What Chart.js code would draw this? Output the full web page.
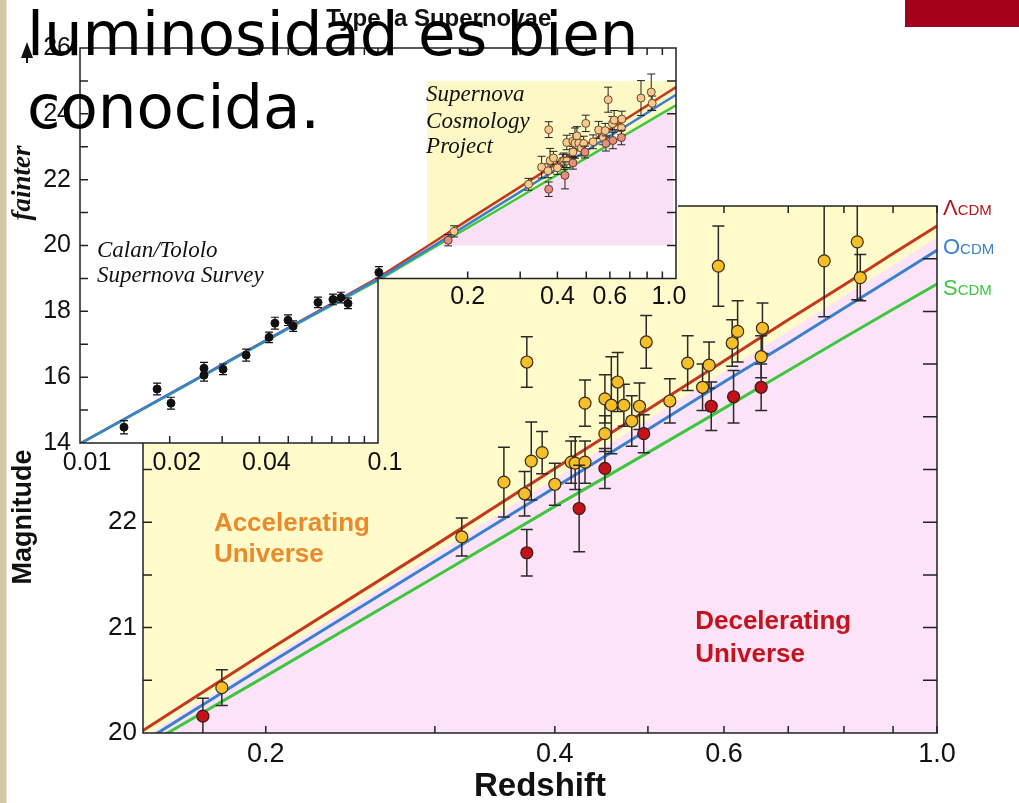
<!DOCTYPE html>
<html>
<head>
<meta charset="utf-8">
<script src="https://cdn.jsdelivr.net/npm/chart.js@4.4.1/dist/chart.umd.min.js"></script>
<style>
  html, body { margin: 0; padding: 0; background: #fff; }
  #slide { position: relative; width: 1019px; height: 803px; overflow: hidden; background: #fff; }
  #main { position: absolute; left: 0; top: 0; z-index: 1; }
  #inset { position: absolute; left: 0; top: 0; z-index: 2; }
  #strip { position: absolute; left: 0; top: 0; width: 6px; height: 803px; background: #d3c6a4; border-right: 1px solid #ece4cf; z-index: 4; }
  #redbar { position: absolute; left: 905px; top: 0; width: 114px; height: 27px; background: #a4021c; z-index: 4; }
  #heading { position: absolute; left: 27px; top: -3px; font-family: 'DejaVu Sans', sans-serif; font-size: 61px; line-height: 73px; color: #000; z-index: 5; white-space: nowrap; }
</style>
</head>
<body>
<div id="slide">
  <canvas id="main" width="1019" height="803"></canvas>
  <canvas id="inset" width="700" height="480"></canvas>
  <div id="strip"></div>
  <div id="redbar"></div>
  <div id="heading">luminosidad es bien<br>conocida.</div>
</div>
<script>
const FONT = "'Liberation Sans', Arial, Helvetica, sans-serif";
const SERIF = "'Liberation Serif', 'Times New Roman', serif";
Chart.defaults.font.family = FONT;
Chart.defaults.color = '#111';

// model curves (redshift -> magnitude)
const modelZ  = [0.01, 0.02, 0.05, 0.1, 0.15, 0.2, 0.3, 0.4, 0.5, 0.6, 0.7, 0.8, 0.9, 1.0];
const lcdmMag = [13.98, 15.49, 17.50, 19.02, 20.04, 20.77, 21.78, 22.51, 23.07, 23.53, 23.92, 24.25, 24.55, 24.81];
const ocdmMag = [13.98, 15.49, 17.49, 18.98, 19.93, 20.64, 21.63, 22.33, 22.88, 23.33, 23.70, 24.03, 24.32, 24.58];
const scdmMag = [13.98, 15.48, 17.47, 18.94, 19.88, 20.54, 21.48, 22.15, 22.66, 23.08, 23.44, 23.75, 24.02, 24.26];

// Supernova Cosmology Project (yellow)
const scpZ   = [0.180, 0.320, 0.354, 0.372, 0.374, 0.378, 0.388, 0.400, 0.416, 0.420, 0.430, 0.430, 0.451, 0.451, 0.458, 0.465,
                0.472, 0.481, 0.490, 0.498, 0.527, 0.550, 0.570, 0.579, 0.592, 0.612, 0.620, 0.658, 0.656, 0.763, 0.826, 0.832];
const scpMag = [20.43, 21.86, 22.38, 22.27, 23.52, 22.58, 22.66, 22.36, 22.57, 22.56, 22.57, 23.13, 23.17, 22.84, 23.11, 23.33,
                23.11, 22.96, 23.10, 23.71, 23.15, 23.51, 23.28, 23.49, 24.43, 23.70, 23.81, 23.84, 23.57, 24.48, 24.66, 24.32];
const scpErr = [0.17, 0.18, 0.33, 0.21, 0.24, 0.37, 0.20, 0.20, 0.20, 0.25, 0.20, 0.22, 0.23, 0.17, 0.46, 0.28,
                0.20, 0.24, 0.22, 0.25, 0.21, 0.26, 0.22, 0.22, 0.38, 0.22, 0.29, 0.24, 0.20, 0.53, 0.55, 0.22];

// second SCP group (red)
const redZ   = [0.172, 0.374, 0.424, 0.451, 0.495, 0.582, 0.614, 0.656];
const redMag = [20.16, 21.71, 22.13, 22.51, 22.84, 23.10, 23.19, 23.28];
const redErr = [0.17, 0.22, 0.41, 0.19, 0.18, 0.23, 0.25, 0.22];

// Calan/Tololo survey (black, inset only)
const ctZ   = [0.01405, 0.01814, 0.0202, 0.02607, 0.02607, 0.0302, 0.0361, 0.0431, 0.0451, 0.0499, 0.0519, 0.0629, 0.0706, 0.0751, 0.0793, 0.1007];
const ctMag = [14.48, 15.64, 15.21, 16.27, 16.06, 16.24, 16.67, 17.21, 17.64, 17.73, 17.55, 18.27, 18.36, 18.42, 18.24, 19.18];
const ctErr = [0.20, 0.18, 0.18, 0.18, 0.18, 0.16, 0.18, 0.16, 0.18, 0.16, 0.16, 0.16, 0.16, 0.16, 0.16, 0.18];

// ticks
const mainXLabels = [0.2, 0.4, 0.6, 1.0];
const mainXMinor  = [0.3, 0.5, 0.7, 0.8, 0.9];
const mainYMinor  = [20.5, 21, 21.5, 22, 22.5, 23, 23.5, 24, 24.5];
const insetXLow   = [0.01, 0.02, 0.04, 0.1];
const insetXHigh  = [0.2, 0.4, 0.6, 1.0];
const insetXMinor = [0.02, 0.03, 0.04, 0.05, 0.06, 0.07, 0.08, 0.09, 0.1, 0.2, 0.3, 0.4, 0.5, 0.6, 0.7, 0.8, 0.9];
const insetYMinor = [15, 16, 17, 18, 19, 20, 21, 22, 23, 24, 25];

// accelerating / decelerating boundary
const mainBoundZ   = [0.147, 1.0];
const mainBoundMag = [19.92, 24.70];
const insetBoundZ   = [0.146, 0.977];
const insetBoundMag = [19.80, 24.18];

// text notes
const regionNotes = [
  { text: 'Accelerating', z: 0.1766, m: 21.92, color: '#ea8a2c' },
  { text: 'Universe',     z: 0.1766, m: 21.62, color: '#ea8a2c' },
  { text: 'Decelerating', z: 0.560,  m: 20.99, color: '#c3141e' },
  { text: 'Universe',     z: 0.560,  m: 20.67, color: '#c3141e' }
];
const modelNames = [
  { big: 'Λ', small: 'CDM', m: 24.91, color: '#b3161c' },
  { big: 'O', small: 'CDM', m: 24.54, color: '#3a80d2' },
  { big: 'S', small: 'CDM', m: 24.16, color: '#3fc63f' }
];
const insetNotes = [
  { text: 'Supernova',        z: 0.145,  m: 24.39 },
  { text: 'Cosmology',        z: 0.145,  m: 23.58 },
  { text: 'Project',          z: 0.145,  m: 22.82 },
  { text: 'Calan/Tololo',     z: 0.0114, m: 19.64 },
  { text: 'Supernova Survey', z: 0.0114, m: 18.88 }
];

const pts = (zs, ms) => zs.map((z, i) => ({ x: z, y: ms[i] }));

// yellow / pink background split along the boundary
const shade = {
  id: 'shade',
  beforeDatasetsDraw(chart, args, o) {
    const { ctx, scales: { x, y } } = chart;
    const x0 = x.getPixelForValue(o.box[0]), x1 = x.getPixelForValue(o.box[1]);
    const y0 = y.getPixelForValue(o.box[3]), y1 = y.getPixelForValue(o.box[2]);
    ctx.save();
    ctx.beginPath();
    ctx.rect(x0, y0, x1 - x0, y1 - y0);
    ctx.clip();
    ctx.fillStyle = o.above;
    ctx.fillRect(x0, y0, x1 - x0, y1 - y0);
    ctx.beginPath();
    o.z.forEach((z, i) => {
      const px = x.getPixelForValue(z), py = y.getPixelForValue(o.m[i]);
      if (i) ctx.lineTo(px, py); else ctx.moveTo(px, py);
    });
    ctx.lineTo(x1 + 5, y1 + 5);
    ctx.lineTo(x0 - 5, y1 + 5);
    ctx.closePath();
    ctx.fillStyle = o.below;
    ctx.fill();
    ctx.restore();
  }
};

// vertical error bars, drawn just before each point set
const errorBars = {
  id: 'errorBars',
  beforeDatasetDraw(chart, args) {
    const ds = chart.data.datasets[args.index];
    if (!ds.errors) return;
    const { ctx, chartArea: a } = chart;
    const y = chart.scales.y;
    ctx.save();
    ctx.beginPath();
    ctx.rect(a.left, a.top, a.right - a.left, a.bottom - a.top);
    ctx.clip();
    ctx.strokeStyle = ds.errColor;
    ctx.lineWidth = ds.errWidth;
    args.meta.data.forEach((p, i) => {
      const v = ds.data[i].y, e = ds.errors[i], c = ds.cap;
      const yt = y.getPixelForValue(v + e), yb = y.getPixelForValue(v - e);
      ctx.beginPath();
      ctx.moveTo(p.x, yt); ctx.lineTo(p.x, yb);
      ctx.moveTo(p.x - c, yt); ctx.lineTo(p.x + c, yt);
      ctx.moveTo(p.x - c, yb); ctx.lineTo(p.x + c, yb);
      ctx.stroke();
    });
    ctx.restore();
  }
};

// frame, inward ticks and text of the big chart
const mainDeco = {
  id: 'mainDeco',
  afterDraw(chart) {
    const { ctx, chartArea: a, scales: { x, y } } = chart;
    ctx.save();
    ctx.strokeStyle = '#222';
    ctx.lineWidth = 1.5;
    ctx.beginPath();
    mainXLabels.concat(mainXMinor).forEach(v => {
      const px = x.getPixelForValue(v);
      ctx.moveTo(px, a.bottom); ctx.lineTo(px, a.bottom - 7);
      ctx.moveTo(px, a.top); ctx.lineTo(px, a.top + 7);
    });
    mainYMinor.forEach(v => {
      const py = y.getPixelForValue(v);
      ctx.moveTo(a.left, py); ctx.lineTo(a.left + 9, py);
      ctx.moveTo(a.right, py); ctx.lineTo(a.right - 14, py);
    });
    ctx.stroke();
    ctx.strokeRect(a.left, a.top, a.right - a.left, a.bottom - a.top);

    ctx.font = "bold 26px " + FONT;
    ctx.textAlign = 'left';
    ctx.textBaseline = 'alphabetic';
    regionNotes.forEach(n => {
      ctx.fillStyle = n.color;
      ctx.fillText(n.text, x.getPixelForValue(n.z), y.getPixelForValue(n.m));
    });

    modelNames.forEach(n => {
      const py = y.getPixelForValue(n.m);
      ctx.fillStyle = n.color;
      ctx.font = "22px " + FONT;
      ctx.fillText(n.big, a.right + 6, py);
      const w = ctx.measureText(n.big).width;
      ctx.font = "15px " + FONT;
      ctx.fillText(n.small, a.right + 6 + w, py);
    });

    ctx.translate(24, y.getPixelForValue(22.05));
    ctx.rotate(-Math.PI / 2);
    ctx.font = "bold 27px " + FONT;
    ctx.fillStyle = '#111';
    ctx.textAlign = 'center';
    ctx.textBaseline = 'middle';
    ctx.fillText('Magnitude', 0, 0);
    ctx.restore();
  }
};

// L-shaped inset: white backing, clipping, frame, ticks, labels
function insetPath(chart, ctx, pad) {
  const { chartArea: a, scales: { x, y } } = chart;
  const nx = x.getPixelForValue(0.1), ny = y.getPixelForValue(19);
  ctx.beginPath();
  ctx.moveTo(a.left - pad.l, a.top - pad.t);
  ctx.lineTo(a.right + pad.r, a.top - pad.t);
  ctx.lineTo(a.right + pad.r, ny);
  ctx.lineTo(nx, ny);
  ctx.lineTo(nx, a.bottom);
  ctx.lineTo(a.left - pad.l, a.bottom);
  ctx.closePath();
}

const insetDeco = {
  id: 'insetDeco',
  beforeDraw(chart) {
    const ctx = chart.ctx;
    ctx.save();
    insetPath(chart, ctx, { l: 90, t: 60, r: 2 });
    ctx.fillStyle = '#fff';
    ctx.fill();
    ctx.restore();
  },
  beforeDatasetsDraw(chart) {
    const ctx = chart.ctx;
    ctx.save();
    insetPath(chart, ctx, { l: 0, t: 0, r: 0 });
    ctx.clip();
  },
  afterDatasetsDraw(chart) {
    const { ctx, chartArea: a, scales: { x, y } } = chart;
    ctx.restore();
    const nx = x.getPixelForValue(0.1), ny = y.getPixelForValue(19);
    ctx.save();
    ctx.strokeStyle = '#222';
    ctx.lineWidth = 1.5;
    ctx.beginPath();
    insetXMinor.forEach(v => {
      const px = x.getPixelForValue(v);
      ctx.moveTo(px, a.top); ctx.lineTo(px, a.top + 7);
      if (v < 0.1) { ctx.moveTo(px, a.bottom); ctx.lineTo(px, a.bottom - 7); }
      else if (v > 0.1) { ctx.moveTo(px, ny); ctx.lineTo(px, ny - 7); }
    });
    insetYMinor.forEach(v => {
      const py = y.getPixelForValue(v);
      ctx.moveTo(a.left, py); ctx.lineTo(a.left + 8, py);
      if (v > 19) { ctx.moveTo(a.right, py); ctx.lineTo(a.right - 9, py); }
    });
    ctx.stroke();
    insetPath(chart, ctx, { l: 0, t: 0, r: 0 });
    ctx.stroke();

    ctx.fillStyle = '#111';
    ctx.font = "25px " + FONT;
    ctx.textAlign = 'center';
    ctx.textBaseline = 'middle';
    insetXLow.forEach(v => ctx.fillText(String(v), x.getPixelForValue(v) + 7, a.bottom + 20));
    insetXHigh.forEach(v => ctx.fillText(v.toFixed(1), x.getPixelForValue(v) - (v === 1 ? 7 : 0), ny + 19));

    ctx.font = "bold 24px " + FONT;
    ctx.fillText('Type Ia Supernovae', x.getPixelForValue(0.16), a.top - 29);

    ctx.font = "italic 23px " + SERIF;
    ctx.textAlign = 'left';
    ctx.textBaseline = 'alphabetic';
    insetNotes.forEach(n => ctx.fillText(n.text, x.getPixelForValue(n.z), y.getPixelForValue(n.m)));

    // arrow + "fainter"
    const ax = a.left - 53, at = a.top - 6;
    ctx.beginPath();
    ctx.moveTo(ax, at); ctx.lineTo(ax - 6, at + 16); ctx.lineTo(ax + 6, at + 16); ctx.closePath();
    ctx.fill();
    ctx.fillRect(ax - 1, at + 12, 2, 9);
    ctx.translate(a.left - 57, y.getPixelForValue(21.9));
    ctx.rotate(-Math.PI / 2);
    ctx.font = "italic bold 27px " + SERIF;
    ctx.textAlign = 'center';
    ctx.textBaseline = 'middle';
    ctx.fillText('fainter', 0, 0);
    ctx.restore();
  }
};

const lineSet = (mags, color, width) => ({
  data: pts(modelZ, mags), showLine: true, borderColor: color, borderWidth: width,
  pointRadius: 0, fill: false, tension: 0
});

// ---- main chart ----
new Chart(document.getElementById('main'), {
  type: 'scatter',
  data: {
    datasets: [
      { data: pts(redZ, redMag), errors: redErr, errColor: '#2a2a2a', errWidth: 1.5, cap: 6,
        backgroundColor: '#c5121a', borderColor: '#3a1a10', borderWidth: 1.2, pointRadius: 6 },
      { data: pts(scpZ, scpMag), errors: scpErr, errColor: '#2a2a2a', errWidth: 1.5, cap: 6,
        backgroundColor: '#f5bf2a', borderColor: '#3a2c14', borderWidth: 1.2, pointRadius: 6 },
      lineSet(lcdmMag, '#c4381c', 3),
      lineSet(ocdmMag, '#3a80d2', 3),
      lineSet(scdmMag, '#3fc63f', 3)
    ]
  },
  options: {
    responsive: false,
    animation: false,
    events: [],
    layout: { padding: { top: 206, right: 82, left: 0, bottom: 0 } },
    plugins: {
      legend: { display: false },
      tooltip: { enabled: false },
      shade: { box: [0.149, 1.0, 20, 25], z: mainBoundZ, m: mainBoundMag, above: '#fffbca', below: '#fce3f7' }
    },
    scales: {
      x: {
        type: 'logarithmic', min: 0.149, max: 1.0,
        afterBuildTicks: s => { s.ticks = mainXLabels.map(v => ({ value: v })); },
        afterFit: s => { s.height = 70; },
        ticks: { callback: v => Number(v).toFixed(1), font: { size: 27 }, padding: 5, maxRotation: 0, autoSkip: false },
        grid: { display: false, drawTicks: false },
        border: { display: false },
        title: { display: true, text: 'Redshift', font: { size: 33, weight: 'bold', lineHeight: 1 }, padding: { top: 0, bottom: 0 } }
      },
      y: {
        min: 20, max: 25,
        afterFit: s => { s.width = 143; },
        ticks: { stepSize: 1, font: { size: 26 }, padding: 6 },
        grid: { display: false, drawTicks: false },
        border: { display: false }
      }
    }
  },
  plugins: [shade, errorBars, mainDeco]
});

// ---- inset chart ----
new Chart(document.getElementById('inset'), {
  type: 'scatter',
  data: {
    datasets: [
      { data: pts(ctZ, ctMag), errors: ctErr, errColor: '#111', errWidth: 1.2, cap: 4,
        backgroundColor: '#111', borderColor: '#111', borderWidth: 1, pointRadius: 4 },
      { data: pts(redZ, redMag), errors: redErr, errColor: '#222', errWidth: 1, cap: 4,
        backgroundColor: '#e2907c', borderColor: '#6a3a30', borderWidth: 1, pointRadius: 4 },
      { data: pts(scpZ, scpMag), errors: scpErr, errColor: '#222', errWidth: 1, cap: 4,
        backgroundColor: '#f5c98c', borderColor: '#6a4a30', borderWidth: 1, pointRadius: 4 },
      lineSet(ocdmMag, '#3a80d2', 2.5),
      lineSet(scdmMag, '#3fc63f', 2.5),
      lineSet(lcdmMag, '#c4381c', 2.5)
    ]
  },
  options: {
    responsive: false,
    animation: false,
    events: [],
    layout: { padding: { top: 48, right: 24, left: 0, bottom: 0 } },
    plugins: {
      legend: { display: false },
      tooltip: { enabled: false },
      shade: { box: [0.146, 0.977, 20, 25], z: insetBoundZ, m: insetBoundMag, above: '#fdf9c6', below: '#f9e0f5' }
    },
    scales: {
      x: {
        type: 'logarithmic', min: 0.01, max: 1.0,
        afterFit: s => { s.height = 37; },
        ticks: { display: false },
        grid: { display: false, drawTicks: false },
        border: { display: false }
      },
      y: {
        min: 14, max: 26,
        afterFit: s => { s.width = 80; },
        ticks: { stepSize: 2, font: { size: 25 }, padding: 9 },
        grid: { display: false, drawTicks: false },
        border: { display: false }
      }
    }
  },
  plugins: [shade, errorBars, insetDeco]
});
</script>
</body>
</html>
